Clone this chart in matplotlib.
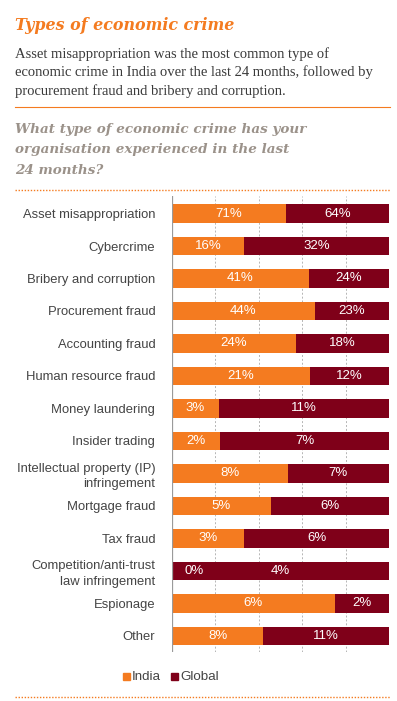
import matplotlib
matplotlib.use("Agg")
import matplotlib.pyplot as plt
from matplotlib.lines import Line2D
from matplotlib.patches import Rectangle

categories = ["Asset misappropriation", "Cybercrime", "Bribery and corruption",
              "Procurement fraud", "Accounting fraud", "Human resource fraud",
              "Money laundering", "Insider trading",
              "Intellectual property (IP)\ninfringement", "Mortgage fraud",
              "Tax fraud", "Competition/anti-trust\nlaw infringement",
              "Espionage", "Other"]
india = [71, 16, 41, 44, 24, 21, 3, 2, 8, 5, 3, 0, 6, 8]
global_ = [64, 32, 24, 23, 18, 12, 11, 7, 7, 6, 6, 4, 2, 11]

ORANGE = "#f47b20"
DARKRED = "#7f0019"
W, H = 397, 701

fig = plt.figure(figsize=(W / 100, H / 100), dpi=100)
fig.patch.set_facecolor("white")

def px(x, y):
    return x / W, 1 - y / H

sans = "Liberation Sans"
serif = "DejaVu Serif"

fig.text(*px(15, 26), "Types of economic crime", color=ORANGE, fontsize=11.4,
         fontweight="bold", fontstyle="italic", family=serif, va="center")
body = ["Asset misappropriation was the most common type of",
        "economic crime in India over the last 24 months, followed by",
        "procurement fraud and bribery and corruption."]
for i, line in enumerate(body):
    fig.text(*px(15, 54 + i * 18.5), line, color="#3a3a3a", fontsize=10.5,
             family="Liberation Serif", va="center")

question = ["What type of economic crime has your",
            "organisation experienced in the last",
            "24 months?"]
for i, line in enumerate(question):
    fig.text(*px(15, 129 + i * 20.5), line, color="#9b928a", fontsize=9.7,
             fontweight="bold", fontstyle="italic", family=serif, va="center")

fig.add_artist(Line2D([15 / W, 390 / W], [1 - 107 / H] * 2, color=ORANGE, lw=0.8))
for yy in (190, 697):
    fig.add_artist(Line2D([15 / W, 390 / W], [1 - yy / H] * 2, color=ORANGE,
                          lw=1.0, linestyle=(0, (1, 1.2))))

ax = fig.add_axes([172 / W, 1 - 652 / H, 217 / W, 456 / H])
n = len(categories)
ys = list(range(n))
share_in = [a / (a + b) * 100 for a, b in zip(india, global_)]
share_gl = [100 - s for s in share_in]

ax.barh(ys, share_in, height=0.57, color=ORANGE, zorder=3)
ax.barh(ys, share_gl, left=share_in, height=0.57, color=DARKRED, zorder=3)

for y, a, b, si in zip(ys, india, global_, share_in):
    xa = si / 2 if si > 0 else 10
    ax.text(xa, y, f"{a}%", color="white", ha="center", va="center",
            fontsize=9.5, family=sans, zorder=4)
    ax.text(si + (100 - si) / 2, y, f"{b}%", color="white", ha="center",
            va="center", fontsize=9.5, family=sans, zorder=4)

ax.set_xlim(0, 100)
ax.set_ylim(n - 0.5, -0.54)
for x in (20, 40, 60, 80, 100):
    ax.axvline(x, color="#b5b5b5", lw=0.7, linestyle=(0, (2, 2)), zorder=1)
ax.axvline(0, color="#9a9a9a", lw=0.9, zorder=5)
for s in ax.spines.values():
    s.set_visible(False)
ax.set_xticks([])
ax.set_yticks(ys)
ax.set_yticklabels(categories, fontsize=9.4, family=sans, color="#444444",
                   linespacing=1.4)
ax.tick_params(axis="y", length=0, pad=12)

# legend
fig.add_artist(Rectangle(px(123, 680), 7 / W, 7 / H, color=ORANGE))
fig.text(*px(132, 676.5), "India", color="#444444", fontsize=9.6, family=sans, va="center")
fig.add_artist(Rectangle(px(171, 680), 7 / W, 7 / H, color=DARKRED))
fig.text(*px(180, 676.5), "Global", color="#444444", fontsize=9.6, family=sans, va="center")

fig.savefig("out.png", dpi=100)
